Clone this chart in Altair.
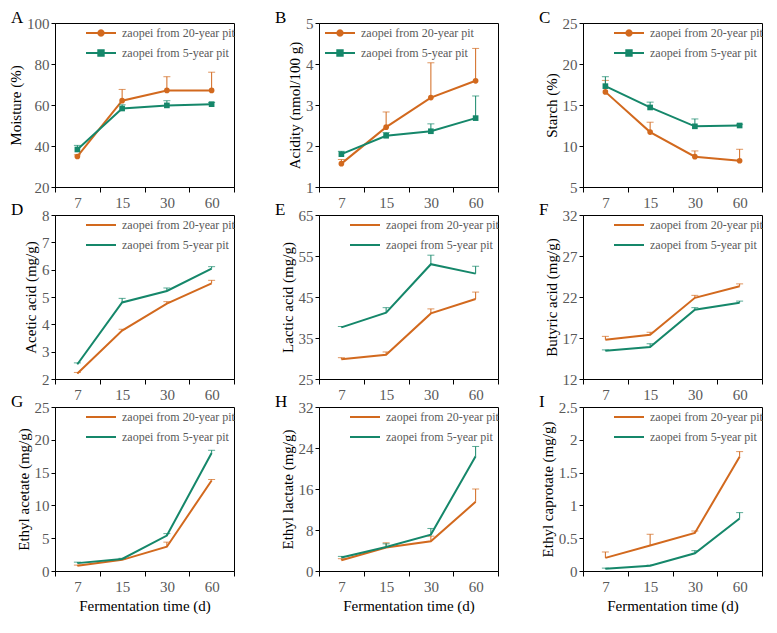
import math
import altair as alt
import pandas as pd

days = ["7", "15", "30", "60"]
S20 = "zaopei from 20-year pit"
S5 = "zaopei from 5-year pit"
ORANGE = "#D2691E"
GREEN = "#15876A"
FONT = "Liberation Serif, DejaVu Serif, Noto Serif, serif"

moisture_20 = [34.9, 62.1, 67.1, 67.1]
moisture_20_err = [0.8, 5.5, 6.7, 8.9]
moisture_5 = [38.3, 58.3, 59.8, 60.4]
moisture_5_err = [2.0, 1.8, 2.3, 0.8]

acidity_20 = [1.57, 2.46, 3.18, 3.59]
acidity_20_err = [0.10, 0.37, 0.85, 0.79]
acidity_5 = [1.80, 2.25, 2.36, 2.68]
acidity_5_err = [0.07, 0.08, 0.18, 0.54]

starch_20 = [16.6, 11.7, 8.7, 8.2]
starch_20_err = [1.4, 1.2, 0.7, 1.4]
starch_5 = [17.3, 14.7, 12.4, 12.5]
starch_5_err = [1.15, 0.65, 0.9, 0.15]

acetic_20 = [2.2, 3.77, 4.76, 5.5]
acetic_20_err = [0.04, 0.05, 0.07, 0.11]
acetic_5 = [2.54, 4.8, 5.22, 6.04]
acetic_5_err = [0.05, 0.15, 0.11, 0.07]

lactic_20 = [29.8, 30.9, 41.0, 44.5]
lactic_20_err = [0.4, 0.7, 1.1, 1.7]
lactic_5 = [37.6, 41.2, 53.0, 50.7]
lactic_5_err = [0.2, 1.2, 2.2, 1.8]

butyric_20 = [16.8, 17.4, 21.9, 23.3]
butyric_20_err = [0.4, 0.3, 0.3, 0.3]
butyric_5 = [15.45, 15.9, 20.45, 21.3]
butyric_5_err = [0.1, 0.4, 0.25, 0.2]

ethyl_acetate_20 = [0.8, 1.7, 3.7, 13.8]
ethyl_acetate_20_err = [0.1, 0.1, 0.7, 0.15]
ethyl_acetate_5 = [1.2, 1.83, 5.4, 18.0]
ethyl_acetate_5_err = [0.15, 0.1, 0.3, 0.4]

ethyl_lactate_20 = [2.1, 4.6, 5.8, 13.5]
ethyl_lactate_20_err = [0.3, 0.9, 1.0, 2.5]
ethyl_lactate_5 = [2.65, 4.7, 7.1, 22.4]
ethyl_lactate_5_err = [0.2, 0.6, 1.2, 1.9]

ethyl_caproate_20 = [0.2, 0.39, 0.58, 1.74]
ethyl_caproate_20_err = [0.09, 0.17, 0.03, 0.08]
ethyl_caproate_5 = [0.034, 0.08, 0.27, 0.80]
ethyl_caproate_5_err = [0.01, 0.01, 0.04, 0.09]


# legend symbols (line + marker), unit coords; polygons only
def ring(r, n=12):
    pts = [(r * math.cos(2 * math.pi * k / n), r * math.sin(2 * math.pi * k / n)) for k in range(n)]
    return "M" + "L".join(f"{px:.3f},{py:.3f}" for px, py in pts) + "Z"


LINE = "M-2.5,0L2.5,0"
RINGS_C = "".join(ring(r) for r in (0.1, 0.2, 0.3, 0.45))
RINGS_S = "".join(f"M-{r},-{r}L{r},-{r}L{r},{r}L-{r},{r}Z" for r in (0.1, 0.2, 0.3, 0.45))

W, H = 179, 164
LEG_R = 30


def panel(letter, ytitle, dom, ticks, v20, e20, v5, e5, markers, legx, xtitle):
    df = pd.DataFrame({
        "day": days * 2,
        "series": [S20] * 4 + [S5] * 4,
        "value": v20 + v5,
        "err": e20 + e5,
    })
    df["top"] = df["value"] + df["err"]
    xaxis = alt.Axis(title=xtitle, labelAngle=0, tickBand="extent", tickSize=5,
                     labelPadding=3, titlePadding=4)
    x = alt.X("day:O", sort=days, axis=xaxis,
              scale=alt.Scale(type="band", paddingInner=0, paddingOuter=0))
    yaxis = alt.Axis(title=ytitle, values=ticks, tickSize=4, labelPadding=2,
                     titlePadding=3, labelFlush=False, labelExpr="datum.value + ''")
    yscale = alt.Scale(domain=dom, nice=False, zero=False)

    def Y(f):
        return alt.Y(f, scale=yscale, axis=yaxis)

    layers = []
    series = [(S20, ORANGE, "circle", RINGS_C, 3), (S5, GREEN, "square", RINGS_S, 23)]
    for s, color, shape, rings, legy in series:
        sub = alt.Chart(df).transform_filter(alt.datum.series == s)
        rule = sub.mark_rule(color=color, strokeWidth=1).encode(x=x, y=Y("value:Q"), y2="top:Q")
        cap = sub.mark_tick(color=color, thickness=1, size=7).encode(x=x, y=Y("top:Q"))
        sym = LINE + (rings if markers else "")
        line = sub.mark_line(strokeWidth=2).encode(
            x=x, y=Y("value:Q"),
            color=alt.Color("series:N", scale=alt.Scale(domain=[s], range=[color]),
                            legend=alt.Legend(title=None, orient="none", legendX=legx,
                                              legendY=legy, direction="vertical",
                                              symbolType=sym, symbolSize=144,
                                              symbolStrokeWidth=2, symbolFillColor=color,
                                              symbolOffset=9, labelOffset=14, padding=0,
                                              labelFont=FONT, labelFontSize=12,
                                              labelColor="#595959")))
        layers += [rule, cap, line]
        if markers:
            layers.append(sub.mark_point(shape=shape, filled=True, size=32, opacity=1,
                                         color=color).encode(x=x, y=Y("value:Q")))
    tag = alt.Chart(pd.DataFrame({"letter": [letter]})).mark_text(
        align="left", baseline="alphabetic", fontSize=17, font=FONT, color="black",
        clip=False).encode(text="letter:N", x=alt.value(-44), y=alt.value(0))
    layers.append(tag)
    return alt.layer(*layers).resolve_scale(color="independent").properties(width=W, height=H)


XT = "Fermentation time (d)"
pA = panel("A", "Moisture (%)", [20, 100], [20, 40, 60, 80, 100], moisture_20, moisture_20_err,
           moisture_5, moisture_5_err, True, LEG_R, None)
pB = panel("B", "Acidity (nmol/100 g)", [1, 5], [1, 2, 3, 4, 5], acidity_20, acidity_20_err,
           acidity_5, acidity_5_err, True, 5, None)
pC = panel("C", "Starch (%)", [5, 25], [5, 10, 15, 20, 25], starch_20, starch_20_err,
           starch_5, starch_5_err, True, LEG_R, None)
pD = panel("D", "Acetic acid (mg/g)", [2, 8], [2, 3, 4, 5, 6, 7, 8], acetic_20, acetic_20_err,
           acetic_5, acetic_5_err, False, LEG_R, None)
pE = panel("E", "Lactic acid (mg/g)", [25, 65], [25, 35, 45, 55, 65], lactic_20, lactic_20_err,
           lactic_5, lactic_5_err, False, LEG_R, None)
pF = panel("F", "Butyric acid (mg/g)", [12, 32], [12, 17, 22, 27, 32], butyric_20, butyric_20_err,
           butyric_5, butyric_5_err, False, LEG_R, None)
pG = panel("G", "Ethyl acetate (mg/g)", [0, 25], [0, 5, 10, 15, 20, 25], ethyl_acetate_20,
           ethyl_acetate_20_err, ethyl_acetate_5, ethyl_acetate_5_err, False, LEG_R, XT)
pH = panel("H", "Ethyl lactate (mg/g)", [0, 32], [0, 8, 16, 24, 32], ethyl_lactate_20,
           ethyl_lactate_20_err, ethyl_lactate_5, ethyl_lactate_5_err, False, LEG_R, XT)
pI = panel("I", "Ethyl caprotate (mg/g)", [0, 2.5], [0, 0.5, 1, 1.5, 2, 2.5], ethyl_caproate_20,
           ethyl_caproate_20_err, ethyl_caproate_5, ethyl_caproate_5_err, False, LEG_R, XT)

chart = alt.concat(pA, pB, pC, pD, pE, pF, pG, pH, pI, columns=3, bounds="flush",
                   spacing=alt.RowColnumber(row=28, column=85)).resolve_scale(
    color="independent").resolve_legend(color="independent").properties(
    padding=0).configure_view(stroke="black", strokeWidth=1).configure_axis(
    domainColor="black", tickColor="black", labelColor="#595959", labelFont=FONT,
    labelFontSize=15, titleFont=FONT, titleFontSize=15, titleFontWeight="normal",
    titleColor="black", grid=False, domainWidth=1, tickWidth=1)

chart.save("out.html", embed_options={"renderer": "svg", "actions": False})
